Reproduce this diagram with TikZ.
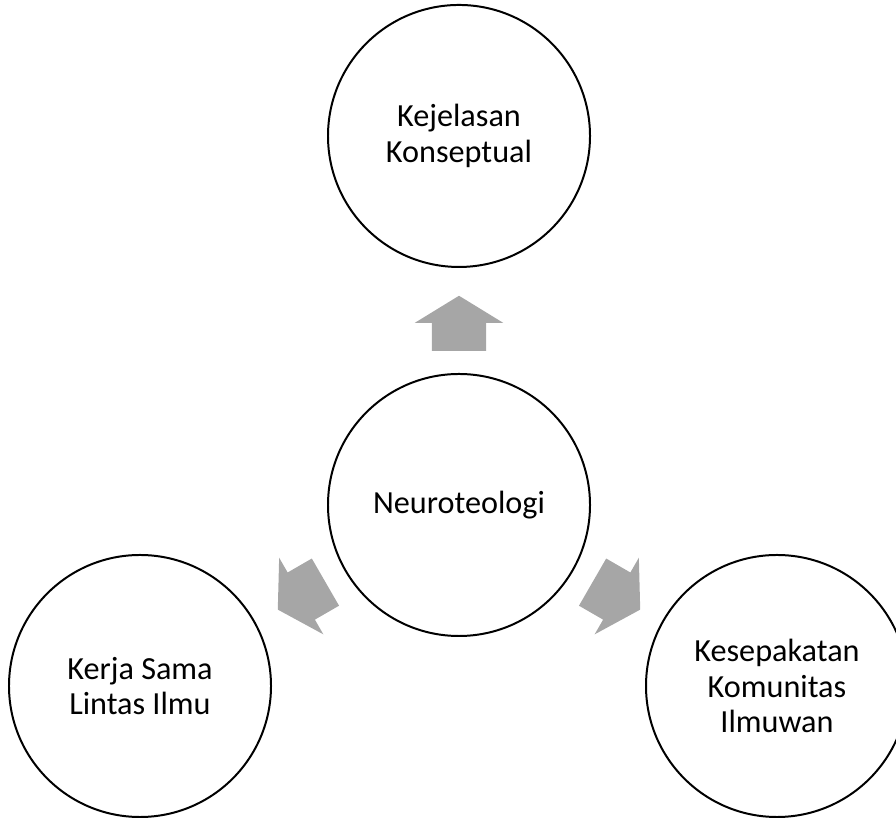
\documentclass[tikz,border=0pt]{standalone}
\usepackage{fontspec}
\setmainfont{Carlito}
\usepackage{tikz}
\usetikzlibrary{calc,shapes.arrows,positioning}
\definecolor{arrowgray}{HTML}{A6A6A6}

\begin{document}
\begin{tikzpicture}[x=0.03cm, y=0.03cm, every node/.style={font=\fontsize{27.5}{30.5}\selectfont}]
    % Define styles for circles and block arrows
    \tikzstyle{bubble} = [draw, fill=white, circle, line width=1.7pt, minimum size=7.86cm, inner sep=0pt, align=center]
    \tikzstyle{blockarrow} = [single arrow, fill=arrowgray, draw=none, anchor=tail, inner xsep=0pt, inner ysep=0.81cm, text height=0pt, text depth=0pt, minimum height=1.65cm, single arrow head extend=0.51cm, single arrow tip angle=117]

    \useasboundingbox (0,0) rectangle (896,819);
    \clip (0,0) rectangle (896,819);

    % Nodes placement
    \node [bubble] (core) at (459,314) {Neuroteologi};
    \node [bubble, above of=core, node distance=11.07cm] (clarity) {Kejelasan\\Konseptual};
    \node [bubble] (collab) at (140,133) {Kerja Sama\\Lintas Ilmu};
    \node [bubble] (consensus) at (777,133) {Kesepakatan\\Komunitas\\Ilmuwan};

    % Block arrows pointing out of the core
    \node [blockarrow, rotate=90] (arrowUp) at ($(core)+(90:154)$) {};
    \node [blockarrow, rotate=210] (arrowLeft) at ($(core)+(210:154)$) {};
    \node [blockarrow, rotate=330] (arrowRight) at ($(core)+(330:154)$) {};
\end{tikzpicture}
\end{document}
